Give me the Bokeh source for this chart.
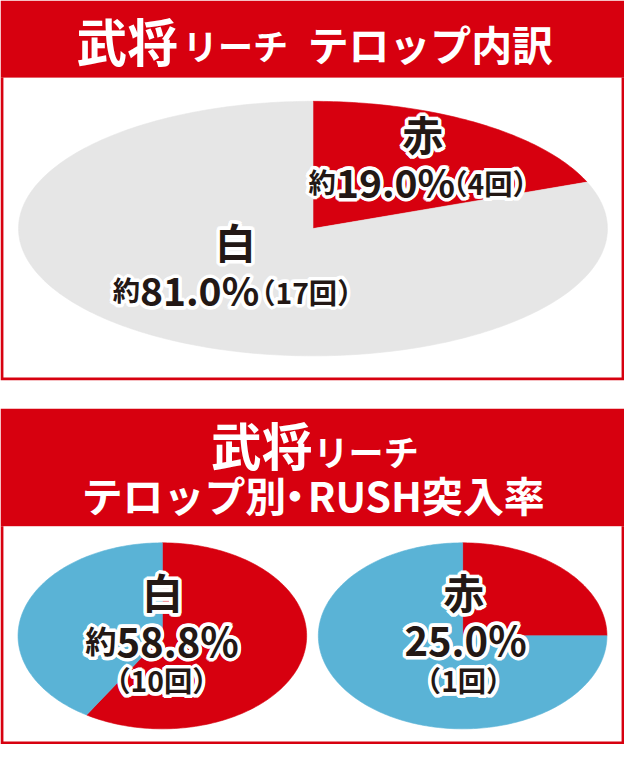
import numpy as np
from bokeh.plotting import figure
from bokeh.models import Range1d, ColumnDataSource
from bokeh.core.properties import value
from bokeh.embed import file_html
from bokeh.resources import INLINE

# ---------------- data ----------------
telop_categories = ["赤", "白"]
telop_counts = [4, 17]
telop_percent = [19.0, 81.0]

rush_categories = ["白", "赤"]
rush_counts = [10, 1]
rush_percent = [58.8, 25.0]

title_top = ["武将", "リーチ", "テロップ内訳"]
title_bottom = ["武将", "リーチ", "テロップ別", "・", "RUSH突入率"]

# ---------------- style ----------------
RED = "#d7000f"
GRAY = "#e6e6e6"
BLUE = "#5ab3d6"
INK = "#231815"
FONT = "Noto Sans CJK JP"

REF_W, REF_H = 640, 760
W, H = 624, 744
S = W / REF_W

p = figure(width=W, height=H, x_range=Range1d(0, REF_W), y_range=Range1d(REF_H, 0),
           output_backend="svg", toolbar_location=None, min_border=0,
           x_axis_location=None, y_axis_location=None)
p.grid.visible = False
p.outline_line_color = None
p.background_fill_color = "white"
p.border_fill_color = "white"

# ---------------- layout panels ----------------
def panel(l, r, t, b, color):
    p.quad(left=[l], right=[r], top=[t], bottom=[b], fill_color=color, line_color=None)

panel(0, 640, 0, 79, RED)          # header 1
panel(0, 640, 79, 388, RED)        # box 1 border
panel(3, 637, 79, 385, "white")
panel(0, 640, 417, 537, RED)       # header 2
panel(0, 640, 537, 760, RED)       # box 2 border
panel(3, 637, 537, 757, "white")

# ---------------- pies ----------------
def pie(cx, cy, rx, ry, fractions, colors):
    xs, ys = [], []
    start = 0.0
    for f in fractions:
        end = start + f
        t = np.linspace(start, end, max(4, int(360 * f) + 2)) * 2 * np.pi
        xs.append(list(np.concatenate([[cx], cx + rx * np.sin(t), [cx]])))
        ys.append(list(np.concatenate([[cy], cy - ry * np.cos(t), [cy]])))
        start = end
    p.patches(xs=xs, ys=ys, fill_color=colors, line_color=colors, line_width=0.6)

total = sum(telop_counts)
pie(320.5, 233, 302, 130, [c / total for c in telop_counts], [RED, GRAY])
pie(166, 649, 148, 95, [rush_percent[0] / 100, 1 - rush_percent[0] / 100], [RED, BLUE])
pie(474, 649, 148, 95, [rush_percent[1] / 100, 1 - rush_percent[1] / 100], [RED, BLUE])

# ---------------- header texts ----------------
def title(x, y, s, size, align="left"):
    p.text(x=[x], y=[y], text=[s], text_font=value(FONT), text_font_size=f"{size * S:.1f}px",
           text_font_style="bold", text_color="white", text_align=align, text_baseline="middle")

title(78, 40, title_top[0], 52)
title(187, 45, title_top[1], 36)
title(315, 44, title_top[2], 42)
title(216, 453, title_bottom[0], 52)
title(321, 460, title_bottom[1], 36)
title(293, 505, title_bottom[2], 42, "right")
title(302, 505, title_bottom[3], 42, "center")
title(315, 505, title_bottom[4], 42, "left")

# ---------------- pie labels (black with white halo) ----------------
labels = {"left": [], "right": [], "center": []}
def lab(x, y, s, size, align="center"):
    labels[align].append((x, y, s, f"{size * S:.1f}px"))

lab(433, 136, telop_categories[0], 42)
lab(344, 184, "約", 28, "right")
lab(344, 184, f"{telop_percent[0]:.1f}%", 40, "left")
lab(450, 186, f"（{telop_counts[0]}回）", 29, "left")

lab(241, 246, telop_categories[1], 42)
lab(143, 295, "約", 28, "right")
lab(143, 295, f"{telop_percent[1]:.1f}%", 40, "left")
lab(253, 297, f"（{telop_counts[1]}回）", 29, "left")

lab(166, 604, rush_categories[0], 42)
lab(119, 653, "約", 32, "right")
lab(119, 653, f"{rush_percent[0]:.1f}%", 41, "left")
lab(165, 694, f"（{rush_counts[0]}回）", 29)

lab(475, 604, rush_categories[1], 42)
lab(477, 652, f"{rush_percent[1]:.1f}%", 41)
lab(475, 694, f"（{rush_counts[1]}回）", 29)

halo = [(3.0 * np.cos(a), 3.0 * np.sin(a)) for a in np.linspace(0, 2 * np.pi, 12, endpoint=False)]
for align, rows in labels.items():
    if not rows:
        continue
    src = ColumnDataSource(dict(x=[r[0] for r in rows], y=[r[1] for r in rows],
                                text=[r[2] for r in rows], size=[r[3] for r in rows]))
    for dx, dy in halo:
        p.text(x="x", y="y", text="text", source=src, text_font=value(FONT),
               text_font_size="size", text_font_style="bold", text_color="white",
               text_outline_color="white", text_align=align, text_baseline="middle",
               x_offset=dx, y_offset=dy)
for align, rows in labels.items():
    if not rows:
        continue
    src = ColumnDataSource(dict(x=[r[0] for r in rows], y=[r[1] for r in rows],
                                text=[r[2] for r in rows], size=[r[3] for r in rows]))
    p.text(x="x", y="y", text="text", source=src, text_font=value(FONT),
           text_font_size="size", text_font_style="bold", text_color=INK,
           text_align=align, text_baseline="middle")

open("out.html", "w").write(file_html(p, INLINE))
